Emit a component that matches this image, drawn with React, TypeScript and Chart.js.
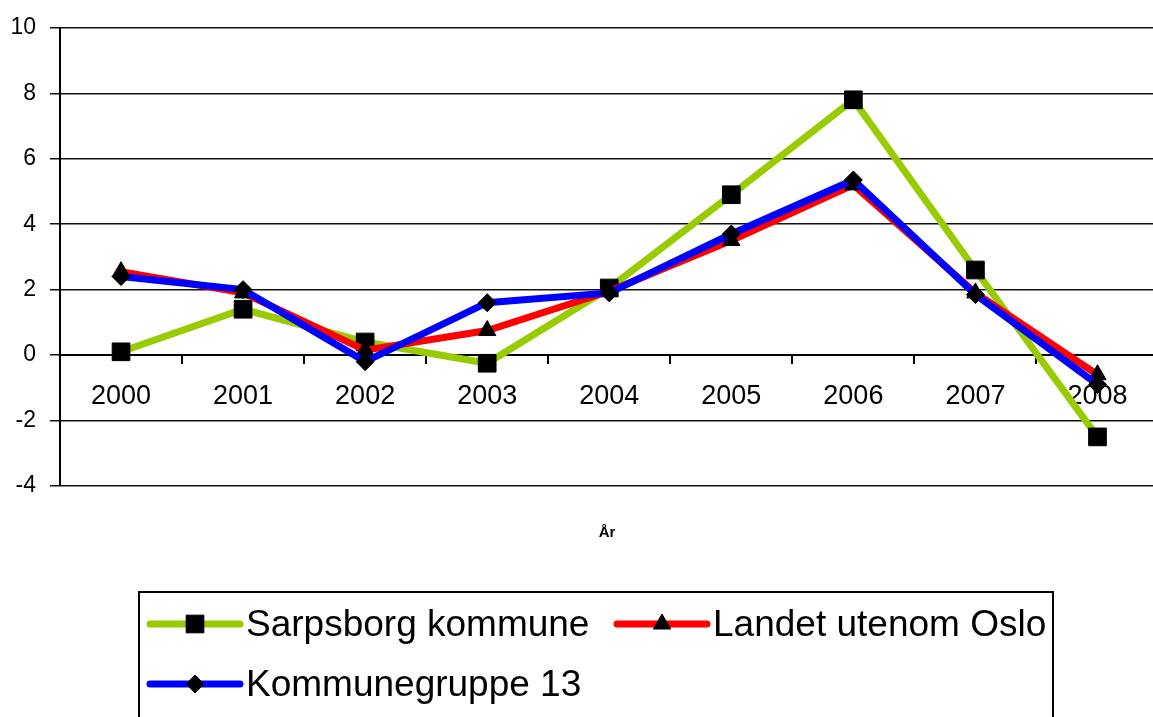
import React, { useEffect, useRef } from "react";
import { Chart, registerables } from "chart.js";

Chart.register(...registerables);

const categories = ["2000", "2001", "2002", "2003", "2004", "2005", "2006", "2007", "2008"];
const sarpsborg = [0.1, 1.4, 0.4, -0.25, 2.05, 4.9, 7.8, 2.6, -2.5];
const landet = [2.55, 1.9, 0.15, 0.75, 1.95, 3.5, 5.2, 1.9, -0.6];
const kommunegruppe = [2.4, 2.0, -0.2, 1.6, 1.9, 3.7, 5.35, 1.85, -0.9];
const yTicks = [10, 8, 6, 4, 2, 0, -2, -4];
const seriesNames = ["Sarpsborg kommune", "Landet utenom Oslo", "Kommunegruppe 13"];
const xTitle = "År";

const FONT = "'Liberation Sans', Arial, sans-serif";

function drawMarker(ctx: CanvasRenderingContext2D, style: string, x: number, y: number, r: number) {
  ctx.beginPath();
  if (style === "rect") {
    const s = Math.SQRT1_2 * r;
    ctx.rect(x - s, y - s, 2 * s, 2 * s);
  } else if (style === "triangle") {
    ctx.moveTo(x, y - r);
    ctx.lineTo(x + r * Math.sin((2 * Math.PI) / 3), y - r * Math.cos((2 * Math.PI) / 3));
    ctx.lineTo(x + r * Math.sin((4 * Math.PI) / 3), y - r * Math.cos((4 * Math.PI) / 3));
    ctx.closePath();
  } else {
    ctx.moveTo(x - r, y);
    ctx.lineTo(x, y - r);
    ctx.lineTo(x + r, y);
    ctx.lineTo(x, y + r);
    ctx.closePath();
  }
  ctx.fill();
  ctx.stroke();
}

const legendPlugin = {
  id: "boxLegend",
  afterDraw(chart: any) {
    const ctx = chart.ctx;
    const area = chart.chartArea;
    ctx.save();
    ctx.fillStyle = "#000";
    ctx.font = `bold 15px ${FONT}`;
    ctx.textAlign = "center";
    ctx.textBaseline = "middle";
    ctx.fillText(xTitle, 607, area.bottom + 47);

    const bx = 139, by = area.bottom + 106, bw = 914, bh = 200;
    ctx.strokeStyle = "#000";
    ctx.lineWidth = 2;
    ctx.strokeRect(bx, by, bw, bh);

    const items = [
      { ds: 0, x: 150, y: by + 32 },
      { ds: 1, x: 617, y: by + 32 },
      { ds: 2, x: 150, y: by + 92 },
    ];
    ctx.font = `37px ${FONT}`;
    ctx.textAlign = "left";
    items.forEach((it) => {
      const ds = chart.data.datasets[it.ds];
      const len = 90;
      ctx.strokeStyle = ds.borderColor;
      ctx.lineWidth = 7;
      ctx.lineCap = "round";
      ctx.beginPath();
      ctx.moveTo(it.x, it.y);
      ctx.lineTo(it.x + len, it.y);
      ctx.stroke();
      ctx.lineCap = "butt";
      ctx.fillStyle = "#000";
      ctx.strokeStyle = "#000";
      ctx.lineWidth = 1;
      drawMarker(ctx, ds.pointStyle, it.x + len / 2, it.y, ds.pointRadius);
      ctx.fillStyle = "#000";
      ctx.fillText(ds.label, it.x + len + 6, it.y + 2);
    });
    ctx.restore();
  },
};

export default function App() {
  const ref = useRef<HTMLCanvasElement>(null);
  useEffect(() => {
    if (!ref.current) return;
    const mk = (label: string, data: number[], color: string, style: string, radius: number, order: number) => ({
      label,
      data,
      borderColor: color,
      backgroundColor: "#000",
      borderWidth: 7,
      pointStyle: style,
      pointRadius: radius,
      pointBackgroundColor: "#000",
      pointBorderColor: "#000",
      pointBorderWidth: 1,
      tension: 0,
      order,
    });
    const chart = new Chart(ref.current, {
      type: "line",
      data: {
        labels: categories,
        datasets: [
          mk(seriesNames[0], sarpsborg, "#99CC00", "rect", 12.5, 2),
          mk(seriesNames[1], landet, "#FF0000", "triangle", 10, 1),
          mk(seriesNames[2], kommunegruppe, "#0000FF", "rectRot", 9, 0),
        ] as any,
      },
      options: {
        animation: false,
        responsive: false,
        maintainAspectRatio: false,
        layout: { padding: { top: 27, left: 0, right: 1, bottom: 231 } },
        plugins: {
          legend: { display: false },
          tooltip: { enabled: false },
          title: { display: false },
        },
        scales: {
          x: {
            type: "category",
            position: { y: 0 } as any,
            offset: true,
            grid: {
              display: true,
              drawOnChartArea: false,
              drawTicks: true,
              tickLength: 8,
              offset: true,
              color: "#000",
              lineWidth: 2,
            },
            border: { display: true, color: "#000", width: 2 },
            ticks: {
              color: "#000",
              font: { family: FONT, size: 27 },
              padding: 17,
              maxRotation: 0,
              autoSkip: false,
            },
          },
          y: {
            type: "linear",
            min: -4,
            max: 10,
            afterFit: (s: any) => {
              s.width = 60;
            },
            afterBuildTicks: (s: any) => {
              s.ticks = yTicks.map((v) => ({ value: v }));
            },
            grid: {
              color: "#111",
              lineWidth: 1.5,
              drawTicks: true,
              tickLength: 10,
            },
            border: { display: true, color: "#000", width: 2 },
            ticks: {
              color: "#000",
              font: { family: FONT, size: 23 },
              padding: 14,
            },
          },
        },
      },
      plugins: [legendPlugin],
    });
    return () => chart.destroy();
  }, []);
  return (
    <div
      style={{
        position: "fixed",
        left: 0,
        top: 0,
        width: 1153,
        height: 717,
        overflow: "hidden",
        background: "#fff",
      }}
    >
      <canvas ref={ref} width={1172} height={717} style={{ display: "block", width: 1172, height: 717 }} />
    </div>
  );
}
